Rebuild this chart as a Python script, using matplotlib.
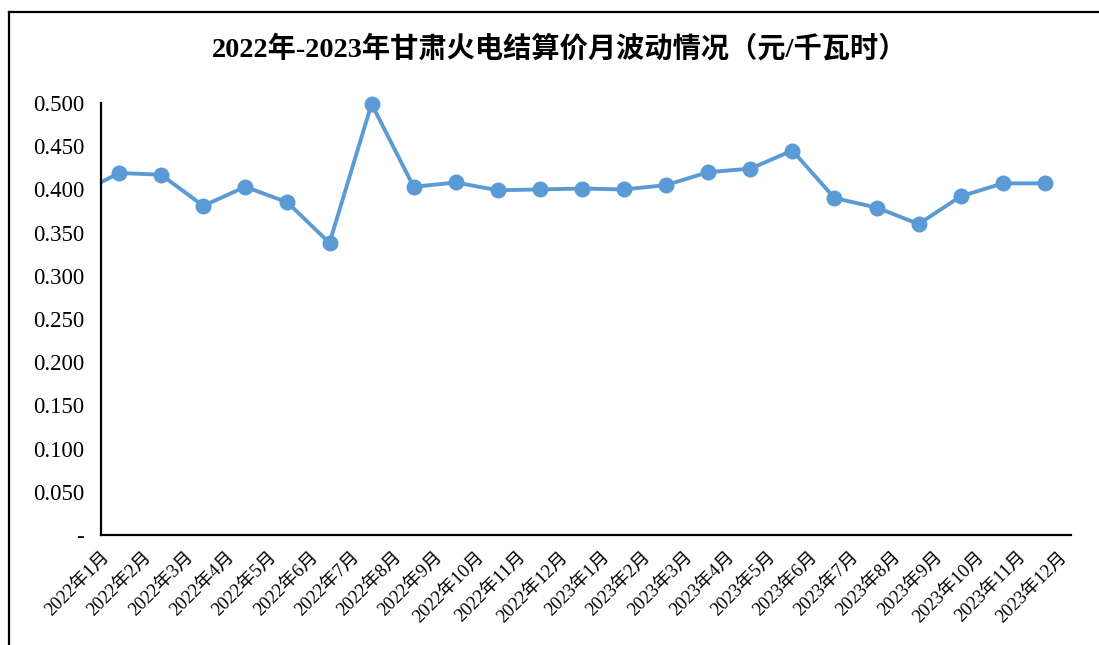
import numpy as np
import matplotlib.pyplot as plt
from matplotlib.lines import Line2D

plt.rcParams['font.family'] = ['Liberation Serif', 'Noto Sans CJK SC', 'DejaVu Sans']

# --- Données (元/千瓦时) ---
mois = ['2022年1月', '2022年2月', '2022年3月', '2022年4月', '2022年5月', '2022年6月',
        '2022年7月', '2022年8月', '2022年9月', '2022年10月', '2022年11月', '2022年12月',
        '2023年1月', '2023年2月', '2023年3月', '2023年4月', '2023年5月', '2023年6月',
        '2023年7月', '2023年8月', '2023年9月', '2023年10月', '2023年11月', '2023年12月']
prix = [0.394, 0.419, 0.417, 0.381, 0.403, 0.385, 0.338, 0.499, 0.403, 0.408,
        0.399, 0.400, 0.401, 0.400, 0.405, 0.420, 0.424, 0.445, 0.390, 0.379,
        0.360, 0.392, 0.407, 0.407]
y_ticks = np.arange(0, 0.501, 0.05)

bleu = '#5B9BD5'
x_min, x_max = 0.57, 23.62

fig = plt.figure(figsize=(10.99, 6.45), dpi=100)
ax = fig.add_axes([0.0919, 0.1705, 0.8826, 0.6698])

x = np.arange(len(prix))
y = np.array(prix)
# ligne (coupée à gauche comme dans l'original)
ax.plot(x, y, color=bleu, linewidth=2.8, solid_joinstyle='round')
# marqueurs visibles, non coupés en haut
visible = x >= x_min
ax.plot(x[visible], y[visible], linestyle='none', marker='o', markersize=11.5,
        markeredgewidth=0, color=bleu, clip_on=False)

ax.set_xlim(x_min, x_max)
ax.set_ylim(0, 0.5)

# axe Y
ax.set_yticks(y_ticks)
ax.set_yticklabels(['-' if v == 0 else f'{v:.3f}' for v in y_ticks], fontsize=16.5)
ax.tick_params(axis='y', length=0, pad=12)

# axe X : étiquettes inclinées
ax.set_xticks(np.linspace(0.72, 23.47, len(mois)))
ax.set_xticklabels(mois, rotation=45, ha='right', va='center',
                   rotation_mode='anchor', fontsize=13.3)
ax.tick_params(axis='x', length=0, pad=14)

for s in ['top', 'right']:
    ax.spines[s].set_visible(False)
for s in ['left', 'bottom']:
    ax.spines[s].set_linewidth(1.6)
    ax.spines[s].set_color('black')

fig.text(0.5095, 0.924, '2022年-2023年甘肃火电结算价月波动情况（元/千瓦时）',
         ha='center', va='center', fontsize=20.3, fontweight='bold')

# cadre extérieur
fig.add_artist(Line2D([0.0082, 0.0082], [0, 0.9814], color='black', linewidth=1.6))
fig.add_artist(Line2D([0.0082, 1.0], [0.9814, 0.9814], color='black', linewidth=1.6))

fig.savefig('out.png', dpi=100)
